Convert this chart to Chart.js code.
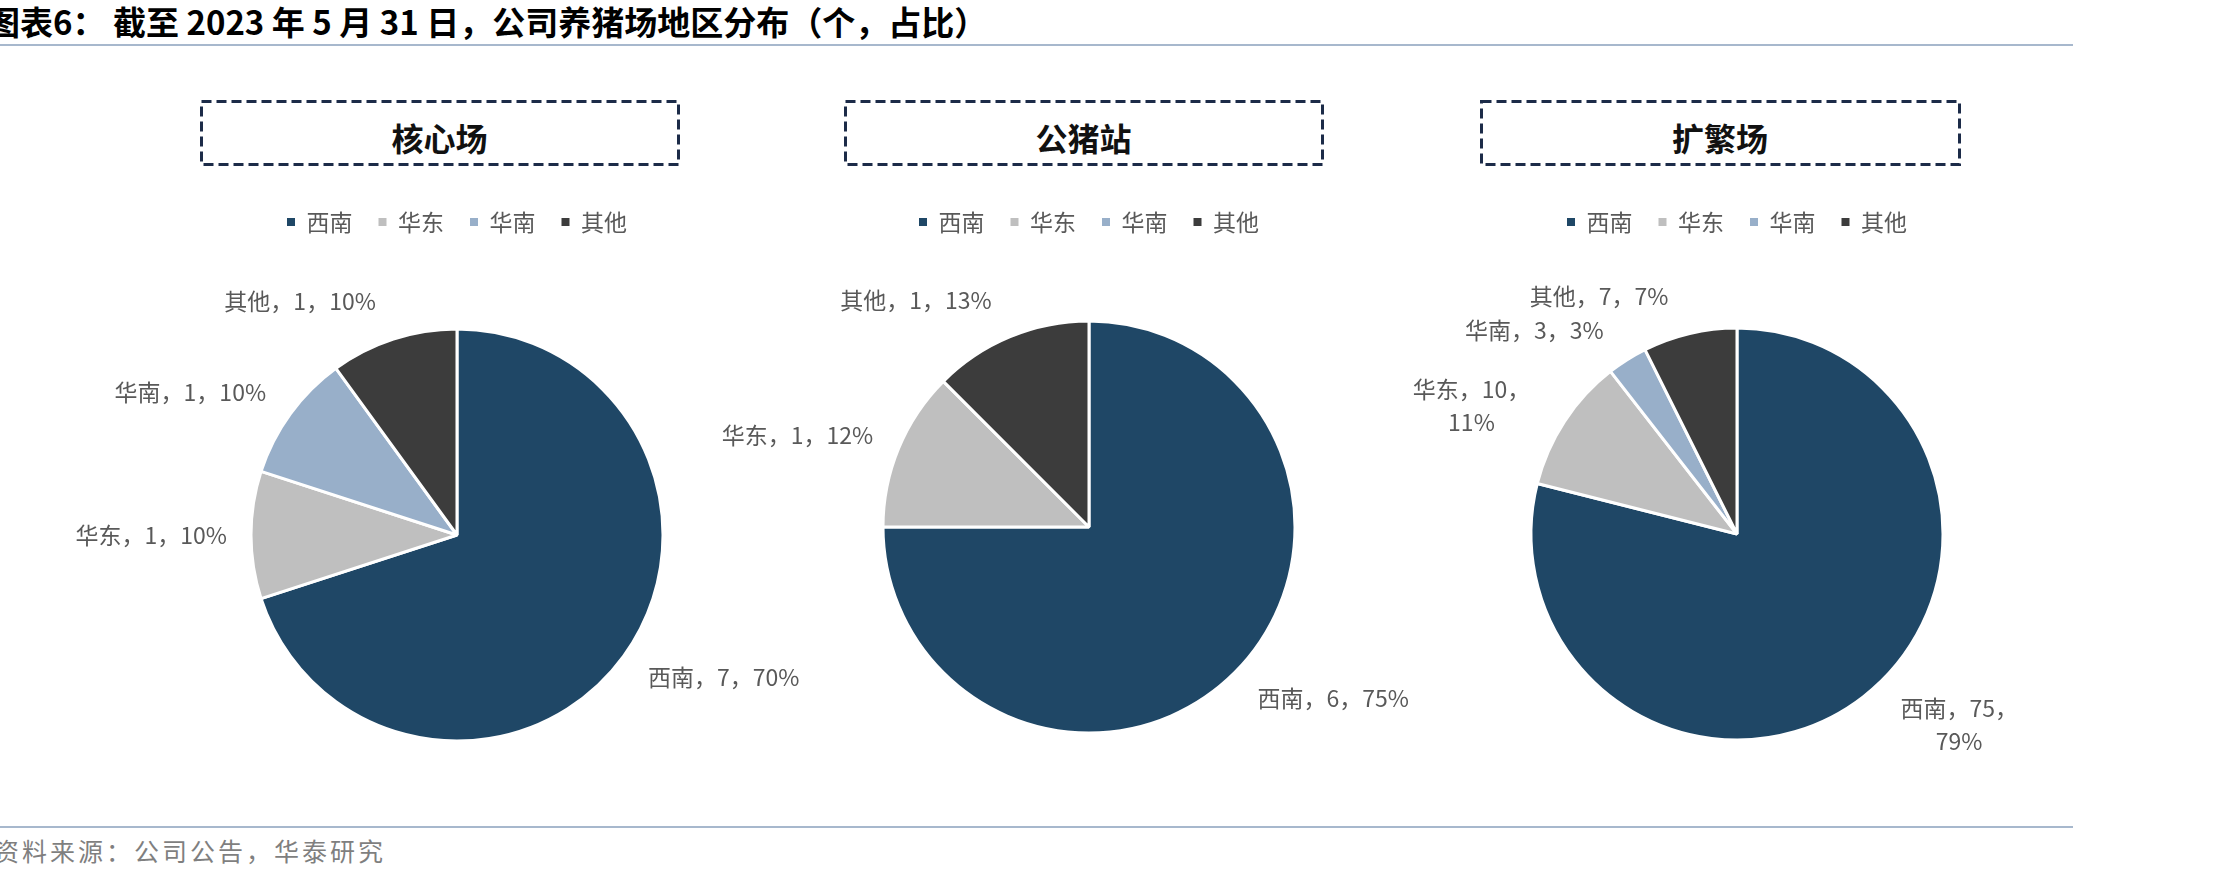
<!DOCTYPE html>
<html>
<head>
<meta charset="utf-8">
<script src="https://cdn.jsdelivr.net/npm/chart.js@4/dist/chart.umd.min.js"></script>
<style>
  body { margin: 0; width: 2229px; height: 882px; background: #fff; position: relative; overflow: hidden;
         font-family: "Noto Sans CJK SC", "Noto Sans", sans-serif; }
  #title { position: absolute; left: -13px; top: 5px; font-size: 33px; line-height: 33px; font-weight: bold;
           color: #000; white-space: nowrap; word-spacing: 0px; }
  .rule { position: absolute; left: 0; width: 2073px; height: 2px; background: #A7B8CD; }
  .panel-title { position: absolute; top: 121px; font-size: 32px; line-height: 33px; font-weight: bold;
                 color: #111; text-align: center; }
  #source { position: absolute; left: -6px; top: 838px; font-size: 25px; line-height: 25px; color: #7f7f7f;
            letter-spacing: 3px; white-space: nowrap; }
  canvas { position: absolute; }
  svg { position: absolute; left: 0; top: 0; }
</style>
</head>
<body>
<div id="title">图表6： 截至 2023 年 5 月 31 日，公司养猪场地区分布（个，占比）</div>
<div class="rule" style="top:44px"></div>
<div class="rule" style="top:826px"></div>
<div id="source">资料来源：公司公告，华泰研究</div>
<svg id="frames" width="2229" height="882"></svg>

<script>
// regions and values
const regions = ['西南', '华东', '华南', '其他'];
const coreFarms = [7, 1, 1, 1];
const corePct = [70, 10, 10, 10];
const boarStations = [6, 1, 0, 1];
const boarPct = [75, 12, 0, 13];
const expandFarms = [75, 10, 3, 7];
const expandPct = [79, 11, 3, 7];
const panelTitles = ['核心场', '公猪站', '扩繁场'];

const sliceColors = ['#1F4766', '#BFBFBF', '#98AFC9', '#3C3C3C'];
const fontFamily = '"Noto Sans CJK SC", "Noto Sans", sans-serif';

// page layout: pie centre, dashed frame span
const panels = [
  { values: coreFarms, pct: corePct, cx: 457, cy: 535, frame: [201, 678] },
  { values: boarStations, pct: boarPct, cx: 1089, cy: 527, frame: [845, 1322] },
  { values: expandFarms, pct: expandPct, cx: 1737, cy: 534, frame: [1481, 1959] }
];

// "name，value，pct%" labels outside each slice
const outsideLabels = {
  id: 'outsideLabels',
  afterDatasetsDraw(chart, args, opts) {
    const ctx = chart.ctx;
    const ds = chart.data.datasets[0];
    const meta = chart.getDatasetMeta(0);
    ctx.save();
    ctx.font = opts.size + 'px ' + fontFamily;
    ctx.fillStyle = opts.color;
    ctx.textAlign = 'center';
    ctx.textBaseline = 'middle';
    meta.data.forEach((arc, i) => {
      const value = ds.data[i];
      if (!value) return;
      const p = arc.getProps(['x', 'y', 'startAngle', 'endAngle', 'outerRadius'], true);
      const mid = (p.startAngle + p.endAngle) / 2;
      let dx = Math.cos(mid), dy = Math.sin(mid);
      // push labels a bit away from the vertical axis, like excel does
      const phi = Math.acos(Math.min(1, Math.abs(dy)));
      const phi2 = phi + opts.spread * (Math.PI / 2 - phi);
      dx = Math.sign(dx) * Math.sin(phi2);
      dy = Math.sign(dy) * Math.cos(phi2);

      const name = chart.data.labels[i];
      const pct = opts.percents[i] + '%';
      let lines = [name + '，' + value + '，' + pct];
      if (ctx.measureText(lines[0]).width > opts.maxWidth) {
        lines = [name + '，' + value + '，', pct];
      }
      const w = Math.max(...lines.map(l => ctx.measureText(l).width));
      const h = (lines.length - 1) * opts.lineHeight + opts.size;
      const d = p.outerRadius + opts.gap + Math.abs(dx) * w / 2 + Math.abs(dy) * h / 2;
      const lx = p.x + dx * d;
      const ly = p.y + dy * d;
      lines.forEach((line, k) => {
        ctx.fillText(line, lx, ly - (lines.length - 1) * opts.lineHeight / 2 + k * opts.lineHeight);
      });
    });
    ctx.restore();
  }
};

function noLegendStroke(chart) {
  const items = Chart.overrides.pie.plugins.legend.labels.generateLabels(chart);
  items.forEach(item => { item.lineWidth = 0; item.strokeStyle = 'rgba(0,0,0,0)'; });
  return items;
}

const svg = document.getElementById('frames');
const canvasW = 840, canvasH = 680, canvasTop = 180;
const pieSize = 415;

panels.forEach((panel, idx) => {
  // dashed title frame
  const rect = document.createElementNS('http://www.w3.org/2000/svg', 'rect');
  rect.setAttribute('x', panel.frame[0] + 0.5);
  rect.setAttribute('y', 101.5);
  rect.setAttribute('width', panel.frame[1] - panel.frame[0]);
  rect.setAttribute('height', 63);
  rect.setAttribute('fill', 'none');
  rect.setAttribute('stroke', '#1C2B48');
  rect.setAttribute('stroke-width', 3);
  rect.setAttribute('stroke-dasharray', '10 5');
  svg.appendChild(rect);

  const t = document.createElement('div');
  t.className = 'panel-title';
  t.style.left = panel.frame[0] + 'px';
  t.style.width = (panel.frame[1] - panel.frame[0]) + 'px';
  t.textContent = panelTitles[idx];
  document.body.appendChild(t);

  const canvas = document.createElement('canvas');
  canvas.width = canvasW;
  canvas.height = canvasH;
  canvas.style.left = (panel.cx - canvasW / 2) + 'px';
  canvas.style.top = canvasTop + 'px';
  canvas.style.width = canvasW + 'px';
  canvas.style.height = canvasH + 'px';
  document.body.appendChild(canvas);

  const areaTop = 243.5;
  const areaBottom = 2 * panel.cy - areaTop;

  new Chart(canvas.getContext('2d'), {
    type: 'pie',
    data: {
      labels: regions,
      datasets: [{
        data: panel.values,
        backgroundColor: sliceColors,
        borderColor: '#ffffff',
        borderWidth: 3,
        hoverBorderWidth: 3,
        hoverOffset: 0
      }]
    },
    options: {
      responsive: false,
      animation: false,
      layout: {
        padding: {
          top: 184.5 - canvasTop,
          left: (canvasW - pieSize) / 2,
          right: (canvasW - pieSize) / 2,
          bottom: canvasTop + canvasH - areaBottom
        }
      },
      plugins: {
        legend: {
          position: 'top',
          labels: {
            boxWidth: 8,
            boxHeight: 8,
            padding: 26,
            color: '#595959',
            font: { size: 23, family: fontFamily },
            generateLabels: noLegendStroke
          }
        },
        tooltip: { enabled: false },
        outsideLabels: {
          percents: panel.pct,
          size: 23,
          lineHeight: 33,
          color: '#595959',
          gap: 24,
          spread: 0.22,
          maxWidth: 155
        }
      }
    },
    plugins: [outsideLabels]
  });
});
</script>
</body>
</html>
